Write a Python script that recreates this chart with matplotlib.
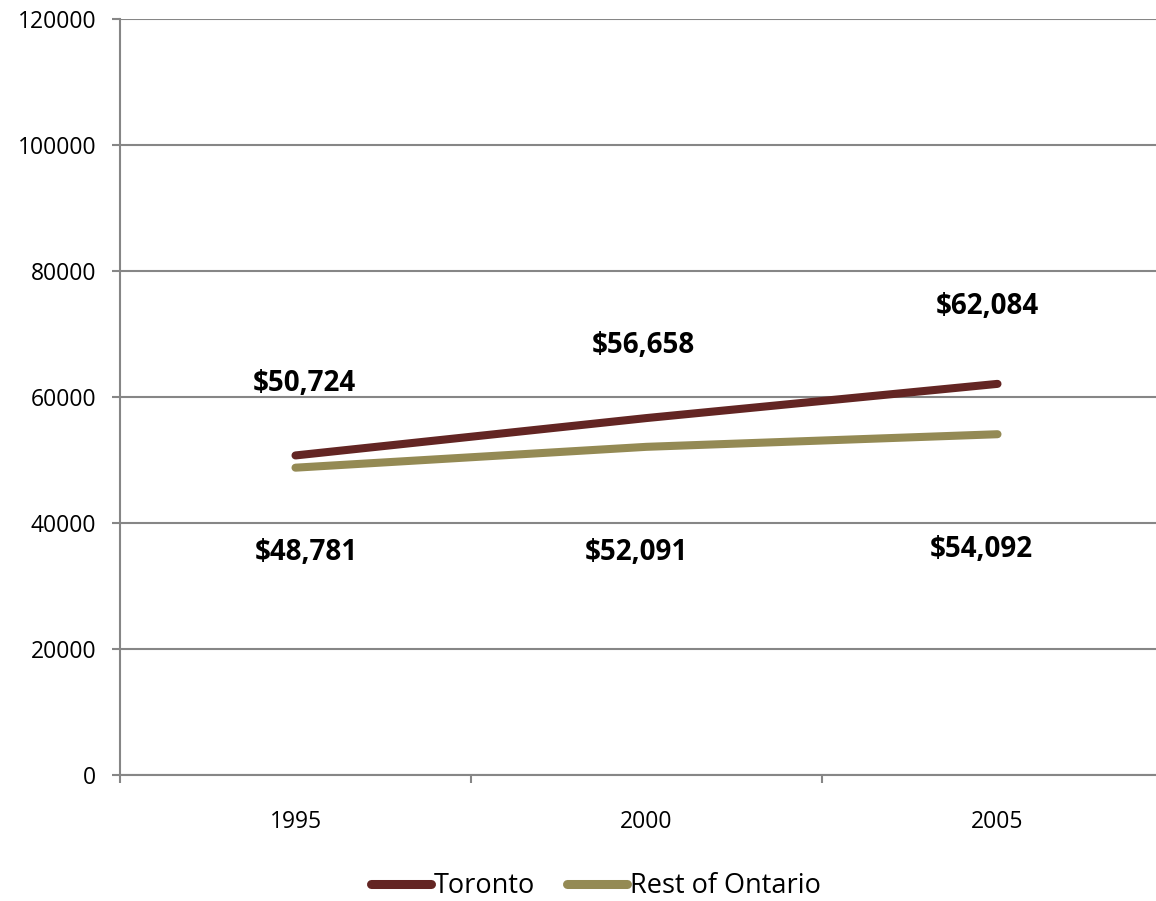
import matplotlib
matplotlib.use("Agg")
import matplotlib.pyplot as plt
from matplotlib.ticker import FixedLocator

plt.rcParams['font.family'] = ['Open Sans', 'DejaVu Sans']

years = ["1995", "2000", "2005"]
toronto = [50724, 56658, 62084]
rest_of_ontario = [48781, 52091, 54092]
y_ticks = [0, 20000, 40000, 60000, 80000, 100000, 120000]

toronto_color = "#632523"
rest_color = "#948A54"
grid_color = "#868686"

W, H = 1156, 901
fig = plt.figure(figsize=(W / 100, H / 100), dpi=100)
left, right, top, bottom = 120, 1173, 19, 775
ax = fig.add_axes([left / W, 1 - bottom / H, (right - left) / W, (bottom - top) / H])

x = list(range(len(years)))
ax.plot(x, toronto, color=toronto_color, lw=5.8, solid_capstyle="round", label="Toronto", zorder=3)
ax.plot(x, rest_of_ontario, color=rest_color, lw=5.8, solid_capstyle="round", label="Rest of Ontario", zorder=3)

ax.set_xlim(-0.5, len(years) - 0.5)
ax.set_ylim(0, 120000)
ax.set_yticks(y_ticks)
ax.set_yticklabels([str(v) for v in y_ticks])
ax.set_xticks(x)
ax.set_xticklabels(years)
ax.xaxis.set_minor_locator(FixedLocator([i - 0.5 for i in range(len(years) + 1)]))
ax.tick_params(axis="x", which="major", length=0, pad=25, labelsize=16.5)
ax.tick_params(axis="x", which="minor", length=6, width=1.5, color=grid_color, direction="out")
ax.tick_params(axis="y", length=6, width=1.5, color=grid_color, labelsize=16.5, pad=11)

ax.grid(axis="y", color=grid_color, lw=1.5)
ax.set_axisbelow(True)
for s in ["top", "right"]:
    ax.spines[s].set_visible(False)
for s in ["left", "bottom"]:
    ax.spines[s].set_color(grid_color)
    ax.spines[s].set_linewidth(1.5)

# value labels with per-point offsets (in points)
toronto_offsets = [(6, 52), (-2, 52), (-7, 56)]
rest_offsets = [(8, -61), (-7, -76), (-12, -83)]
for xi, v, off in zip(x, toronto, toronto_offsets):
    ax.annotate(f"${v:,}", (xi, v), xytext=off, textcoords="offset points",
                ha="center", va="center", fontsize=20, fontweight="bold")
for xi, v, off in zip(x, rest_of_ontario, rest_offsets):
    ax.annotate(f"${v:,}", (xi, v), xytext=off, textcoords="offset points",
                ha="center", va="center", fontsize=20, fontweight="bold")

leg = fig.legend(loc="center", bbox_to_anchor=(596 / W, 1 - 886 / H), ncol=2, frameon=False,
                 fontsize=19.5, handlelength=2.2, handletextpad=0.1, columnspacing=1.2,
                 borderpad=0.2)
for line in leg.get_lines():
    line.set_linewidth(6.5)

fig.savefig("out.png", dpi=100)
